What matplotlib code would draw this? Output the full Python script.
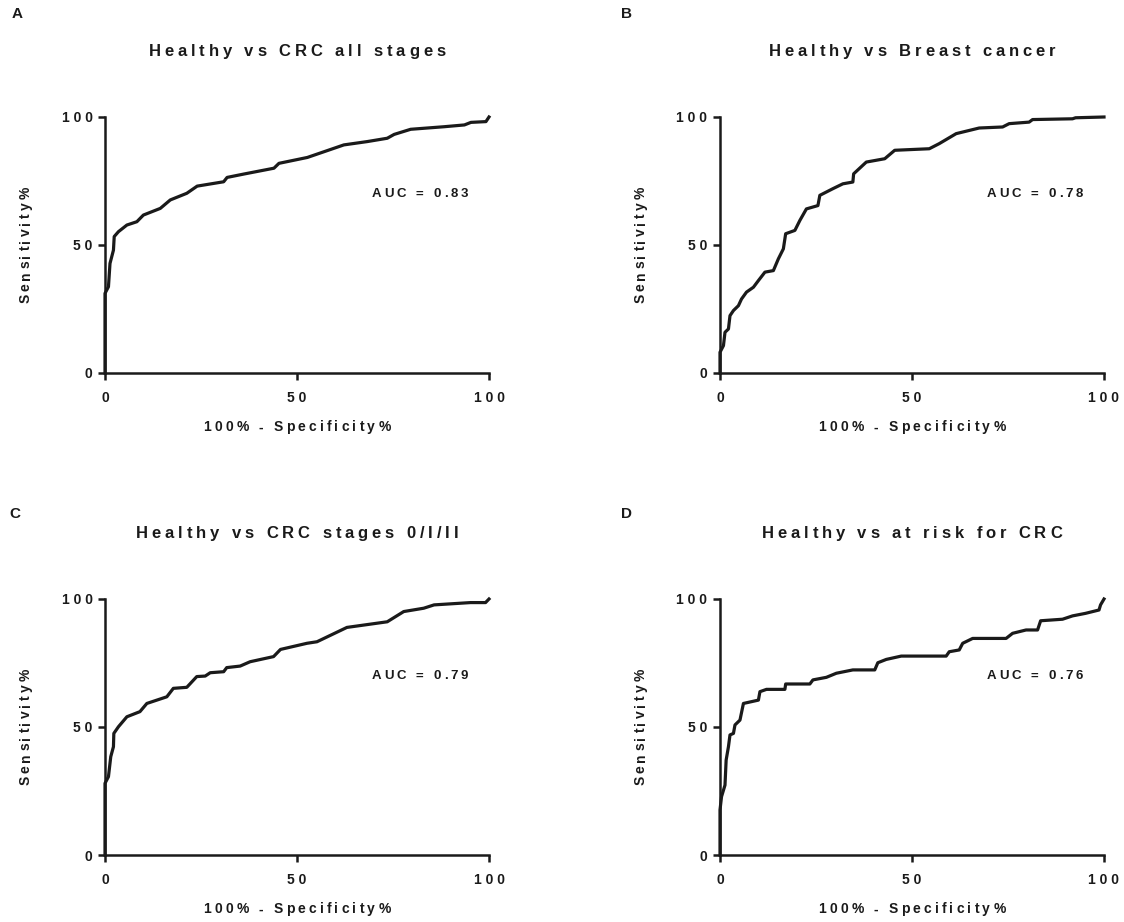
import matplotlib
matplotlib.use('Agg')
import matplotlib.pyplot as plt
import matplotlib.transforms as mtransforms
from matplotlib.font_manager import FontProperties, findfont
from matplotlib.ft2font import FT2Font

FONT = 'Liberation Sans'
plt.rcParams['font.family'] = [FONT, 'DejaVu Sans']
plt.rcParams['font.weight'] = 'bold'

# ROC curves: 100% - specificity (x) against sensitivity (y), both in %
fpr_a = [0, 0, 0.9, 1.3, 2.2, 2.4, 3.5, 5.7, 8.3, 10.0, 14.4, 17.0, 21.3, 24.0,
         30.9, 31.8, 36.1, 44.0, 45.3, 52.7, 62.2, 68.3, 73.5, 75.3, 79.6,
         88.3, 93.6, 95.3, 99.2, 100]
tpr_a = [0, 31.1, 33.7, 42.8, 48.0, 53.3, 55.2, 57.8, 59.1, 61.7, 64.3, 67.6,
         70.2, 73.0, 74.7, 76.4, 77.7, 80.0, 81.9, 84.2, 89.1, 90.4, 91.7,
         93.2, 95.2, 96.2, 96.9, 97.9, 98.2, 100]

fpr_b = [0, 0, 0.9, 1.3, 2.2, 2.6, 3.5, 4.8, 5.6, 6.9, 8.7, 10.0, 11.7, 13.9,
         15.2, 16.5, 17.1, 19.5, 20.8, 22.5, 25.5, 26.0, 29.4, 32.0, 34.6,
         34.8, 38.1, 42.9, 45.5, 54.5, 57.1, 61.5, 67.5, 73.6, 75.3, 80.5,
         81.4, 91.8, 92.6, 100]
tpr_b = [0, 8.1, 10.7, 15.9, 17.2, 22.4, 24.4, 26.3, 28.9, 31.6, 33.5, 36.1,
         39.4, 40.0, 44.6, 48.5, 54.4, 55.7, 59.6, 64.1, 65.4, 69.4, 72.0,
         73.9, 74.6, 77.8, 82.4, 83.7, 87.0, 87.6, 89.6, 93.5, 95.7, 96.1,
         97.4, 98.0, 99.0, 99.3, 99.7, 100]

fpr_c = [0, 0, 0.9, 1.5, 2.2, 2.3, 3.5, 5.7, 9.1, 10.9, 16.1, 17.8, 21.3,
         23.9, 26.1, 27.4, 30.9, 31.7, 35.2, 37.8, 43.9, 45.7, 52.6, 55.2,
         63.0, 73.5, 77.8, 83.0, 85.7, 95.2, 99.1, 100]
tpr_c = [0, 28.0, 30.6, 38.4, 42.3, 47.5, 50.1, 54.0, 56.0, 59.2, 61.8, 65.1,
         65.5, 69.7, 69.9, 71.2, 71.6, 73.2, 73.8, 75.5, 77.5, 80.3, 82.7,
         83.3, 88.9, 91.1, 95.1, 96.4, 97.7, 98.6, 98.6, 100]

fpr_d = [0, 0, 0.4, 1.3, 1.6, 2.2, 2.6, 3.5, 3.9, 5.2, 6.1, 10.0, 10.4, 12.1,
         16.9, 17.1, 23.4, 24.2, 27.7, 30.3, 34.6, 40.3, 41.1, 43.3, 47.2,
         58.9, 59.7, 62.3, 63.2, 65.8, 74.5, 76.2, 79.7, 82.7, 83.5, 89.2,
         91.8, 95.2, 98.7, 99.1, 100]
tpr_d = [0, 17.6, 22.8, 27.3, 37.1, 42.3, 46.9, 47.5, 50.8, 52.7, 59.2, 60.5,
         63.8, 64.7, 64.7, 66.8, 66.8, 68.4, 69.4, 71.0, 72.3, 72.3, 75.1,
         76.4, 77.7, 77.7, 79.4, 80.1, 82.7, 84.6, 84.6, 86.6, 87.9, 87.9,
         91.5, 92.1, 93.4, 94.4, 95.7, 97.7, 100]

panel_letters = ['A', 'B', 'C', 'D']
titles = ['Healthy vs CRC all stages', 'Healthy vs Breast cancer',
          'Healthy vs CRC stages 0/I/II', 'Healthy vs at risk for CRC']
auc_values = [0.83, 0.78, 0.79, 0.76]
curves = [(fpr_a, tpr_a), (fpr_b, tpr_b), (fpr_c, tpr_c), (fpr_d, tpr_d)]
ticks = [0, 50, 100]

INK = '#1a1a1a'
TRACK = 0.23  # extra letter spacing, in em

_font = FT2Font(findfont(FontProperties(family=FONT, weight='bold')))


def char_advances(s, size):
    _font.set_size(size, 72)
    return [_font.load_char(ord(c)).linearHoriAdvance / 65536 for c in s]


def tracked_text(ax, x, y, s, size, transform, ha='center', vertical=False):
    """Draw letter-spaced text one glyph at a time (Prism-style lettering)."""
    adv = char_advances(s, size)
    track = TRACK * size
    total = sum(adv) + track * (len(s) - 1)
    pos = -total / 2 if ha == 'center' else 0.0
    for c, a in zip(s, adv):
        if c != ' ':
            if vertical:
                tr = mtransforms.offset_copy(transform, fig=ax.figure,
                                             x=0, y=pos, units='points')
            else:
                tr = mtransforms.offset_copy(transform, fig=ax.figure,
                                             x=pos, y=0, units='points')
            ax.text(x, y, c, transform=tr, fontsize=size, fontweight='bold',
                    ha='left', va='baseline', color=INK,
                    rotation=90 if vertical else 0, rotation_mode='anchor',
                    clip_on=False)
        pos += a + track


def spaced(s):
    return ' '.join(s)


fig = plt.figure(figsize=(11.24, 9.22), dpi=100)

W, H = 1124, 922
ax_w, ax_h = 384 / W, 256 / H
lefts = [105 / W, 720 / W, 105 / W, 720 / W]
bottoms = [1 - 373 / H, 1 - 373 / H, 1 - 855 / H, 1 - 855 / H]
letter_pos = [(17, 14), (627, 14), (15, 514), (627, 514)]

for i in range(4):
    ax = fig.add_axes([lefts[i], bottoms[i], ax_w, ax_h])
    x, y = curves[i]
    ax.plot(x, y, color=INK, linewidth=2.3, clip_on=False, zorder=3,
            solid_joinstyle='round')

    ax.set_xlim(0, 100)
    ax.set_ylim(0, 100)
    for side in ['top', 'right']:
        ax.spines[side].set_visible(False)
    for side in ['left', 'bottom']:
        ax.spines[side].set_linewidth(1.8)
        ax.spines[side].set_color(INK)

    ax.set_xticks(ticks)
    ax.set_yticks(ticks)
    ax.set_xticklabels([spaced(str(t)) for t in ticks])
    ax.set_yticklabels([spaced(str(t)) for t in ticks])
    ax.tick_params(axis='both', direction='out', length=5, width=1.8,
                   color=INK, labelcolor=INK, labelsize=10)
    ax.tick_params(axis='x', pad=8)
    ax.tick_params(axis='y', pad=4)

    # axis titles, panel title and AUC annotation
    tracked_text(ax, 0.5, -0.228, '100% - Specificity%', 10, ax.transAxes)
    tracked_text(ax, -0.196, 0.5, 'Sensitivity%', 10, ax.transAxes,
                 vertical=True)
    tracked_text(ax, 0.5, 1.238, titles[i], 12, ax.transAxes)
    tracked_text(ax, 82, 68.6, f'AUC = {auc_values[i]:.2f}', 9.5,
                 ax.transData)

    lx, ly = letter_pos[i]
    fig.text(lx / W, 1 - ly / H, panel_letters[i], ha='center', va='center',
             fontsize=11, fontweight='bold', color=INK)

fig.savefig('out.png', dpi=100)
